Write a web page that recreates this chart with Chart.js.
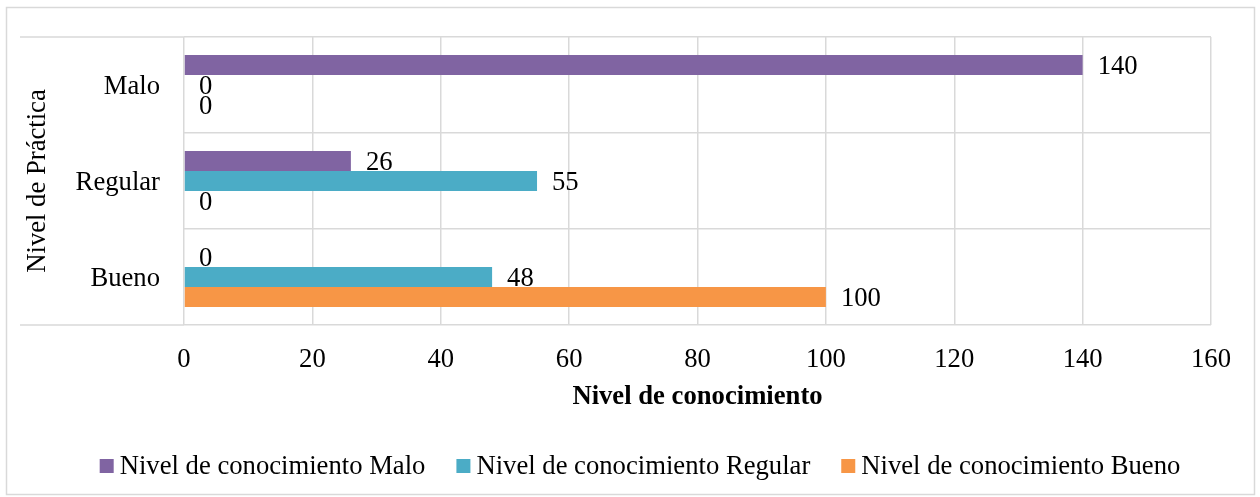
<!DOCTYPE html>
<html lang="es">
<head>
<meta charset="UTF-8">
<title>Nivel de Práctica vs Nivel de conocimiento</title>
<script src="https://cdn.jsdelivr.net/npm/chart.js"></script>
<style>
  html, body { margin: 0; padding: 0; background: #fff; }
  #wrap { width: 1260px; height: 497px; }
</style>
</head>
<body>
<div id="wrap"><canvas id="chart" width="1260" height="497"></canvas></div>
<script>
// data
const categories = ['Malo', 'Regular', 'Bueno'];
const seriesNames = ['Nivel de conocimiento Malo', 'Nivel de conocimiento Regular', 'Nivel de conocimiento Bueno'];
const conocMalo = [140, 26, 0];
const conocRegular = [0, 55, 48];
const conocBueno = [0, 0, 100];
const seriesColors = ['#8064A2', '#4BACC6', '#F79646'];
const xMin = 0, xMax = 160, xStep = 20;

const FONT = "'Liberation Serif', 'Times New Roman', serif";
const FS = 26.67;
const GRID = '#d9d9d9';
Chart.defaults.font.family = FONT;
Chart.defaults.font.size = FS;
Chart.defaults.color = '#000';

// outer frame + the top/bottom lines that run under the category labels
const framePlugin = {
    id: 'frame',
    beforeDraw(chart) {
        const ctx = chart.ctx;
        ctx.save();
        ctx.fillStyle = '#fff';
        ctx.fillRect(0, 0, chart.width, chart.height);
        ctx.strokeStyle = GRID;
        ctx.lineWidth = 1.5;
        ctx.strokeRect(6.5, 7.5, 1248, 487);
        const y = chart.scales.y;
        const x = chart.scales.x;
        [y.getPixelForValue(-0.5), y.getPixelForValue(categories.length - 0.5)].forEach(py => {
            ctx.beginPath();
            ctx.moveTo(20, py);
            ctx.lineTo(x.left, py);
            ctx.stroke();
        });
        ctx.restore();
    }
};

// value labels, drawn per dataset so later series sit on top
const valueLabels = {
    id: 'valueLabels',
    afterDatasetDraw(chart, args) {
        const ctx = chart.ctx;
        const ds = chart.data.datasets[args.index];
        ctx.save();
        ctx.font = FS + 'px ' + FONT;
        ctx.fillStyle = '#000';
        ctx.textAlign = 'left';
        ctx.textBaseline = 'middle';
        args.meta.data.forEach((bar, i) => {
            ctx.fillText(String(ds.data[i]), bar.x + 15, bar.y + 2);
        });
        ctx.restore();
    }
};

// legend drawn by hand to get Excel-like spacing
const legendPlugin = {
    id: 'xlLegend',
    afterDraw(chart) {
        const ctx = chart.ctx;
        ctx.save();
        ctx.font = FS + 'px ' + FONT;
        const box = 14, gap = 6, spacing = 31;
        const items = chart.data.datasets.map(d => ({ text: d.label, color: d.backgroundColor, w: ctx.measureText(d.label).width }));
        const total = items.reduce((s, it) => s + box + gap + it.w, 0) + spacing * (items.length - 1);
        let x = 640 - total / 2;
        const cy = 466;
        items.forEach(it => {
            ctx.fillStyle = it.color;
            ctx.fillRect(x, cy - box / 2, box, box);
            ctx.fillStyle = '#000';
            ctx.textAlign = 'left';
            ctx.textBaseline = 'middle';
            ctx.fillText(it.text, x + box + gap, cy + 1);
            x += box + gap + it.w + spacing;
        });
        ctx.restore();
    }
};

new Chart(document.getElementById('chart'), {
    type: 'bar',
    data: {
        labels: categories,
        datasets: [
            { label: seriesNames[0], data: conocMalo, backgroundColor: seriesColors[0] },
            { label: seriesNames[1], data: conocRegular, backgroundColor: seriesColors[1] },
            { label: seriesNames[2], data: conocBueno, backgroundColor: seriesColors[2] }
        ]
    },
    options: {
        indexAxis: 'y',
        responsive: false,
        animation: false,
        categoryPercentage: 0.625,
        barPercentage: 1,
        layout: { padding: { top: 37, right: 49, left: 0, bottom: 0 } },
        plugins: {
            legend: { display: false },
            tooltip: { enabled: false }
        },
        scales: {
            x: {
                min: xMin,
                max: xMax,
                ticks: { stepSize: xStep, padding: 19, font: { size: FS } },
                grid: { color: GRID, lineWidth: 1.5, drawTicks: false },
                border: { display: false },
                title: {
                    display: true,
                    text: 'Nivel de conocimiento',
                    font: { size: FS, weight: 'bold' },
                    padding: { top: 0, bottom: 84 }
                },
                afterFit(scale) { scale.height = 172; }
            },
            y: {
                // small lineHeight keeps the label padding from pushing the plot down
                ticks: { padding: 24, labelOffset: 2, font: { size: FS, lineHeight: 0.6 } },
                grid: { color: GRID, lineWidth: 1.5, drawTicks: false, offset: true },
                border: { display: false },
                title: {
                    display: true,
                    text: 'Nivel de Práctica',
                    font: { size: FS },
                    padding: { top: 22, bottom: 0 }
                },
                afterFit(scale) { scale.width = 184; }
            }
        }
    },
    plugins: [framePlugin, valueLabels, legendPlugin]
});
</script>
</body>
</html>
